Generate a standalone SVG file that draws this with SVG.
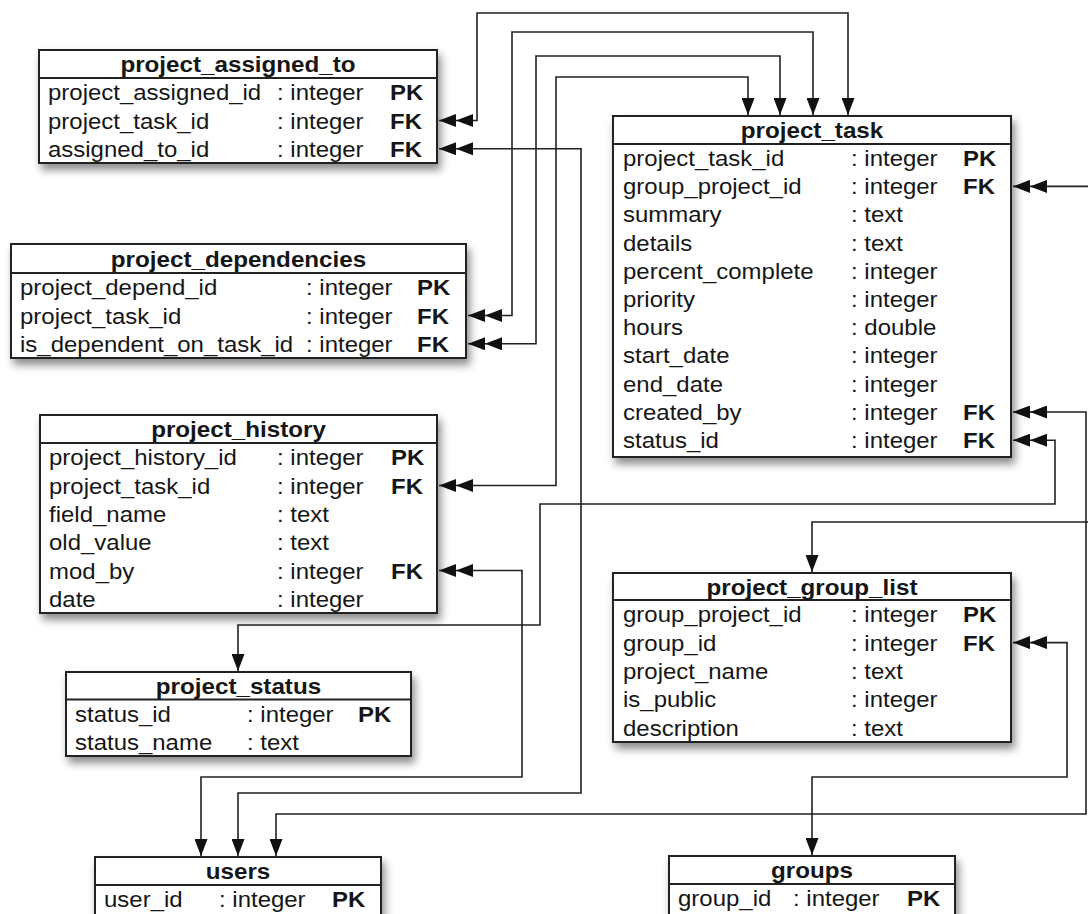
<svg xmlns="http://www.w3.org/2000/svg" width="1088" height="914" viewBox="0 0 1088 914">
<defs>
<filter id="sh" x="-10%" y="-10%" width="130%" height="140%">
<feDropShadow dx="3" dy="6" stdDeviation="4" flood-color="#000" flood-opacity="0.45"/>
</filter>
<marker id="dbl" viewBox="0 0 34 13" refX="34" refY="6.5" markerWidth="34" markerHeight="13" markerUnits="userSpaceOnUse" orient="auto-start-reverse">
<path d="M0,0 L17,6.5 L0,13 Z M17,0 L34,6.5 L17,13 Z" fill="#111"/>
</marker>
<marker id="arr" viewBox="0 0 17 13" refX="17" refY="6.5" markerWidth="17" markerHeight="13" markerUnits="userSpaceOnUse" orient="auto">
<path d="M0,0 L17,6.5 L0,13 Z" fill="#111"/>
</marker>
<style>
.box{fill:#fff;stroke:#222;stroke-width:2}
.hd{stroke:#222;stroke-width:2}
.c{fill:none;stroke:#222;stroke-width:1.6;marker-start:url(#dbl);marker-end:url(#arr)}
text{font-family:"Liberation Sans",Arial,Helvetica,sans-serif;font-size:22px;fill:#161616}
.t{font-weight:bold;text-anchor:middle}
.k{font-weight:bold}
</style>
</defs>
<rect width="1088" height="914" fill="#fff"/>

<g id="project_assigned_to">
<rect class="box" x="39" y="50" width="398" height="113" filter="url(#sh)"/>
<line class="hd" x1="39" y1="78" x2="437" y2="78"/>
<text class="t" transform="matrix(1.1 0 0 1 238 72)">project_assigned_to</text>
<text transform="matrix(1.09 0 0 1 48 100.2)">project_assigned_id</text>
<text transform="matrix(1.09 0 0 1 277 100.2)">: integer</text>
<text class="k" transform="matrix(1.09 0 0 1 390 100.2)">PK</text>
<text transform="matrix(1.09 0 0 1 48 128.5)">project_task_id</text>
<text transform="matrix(1.09 0 0 1 277 128.5)">: integer</text>
<text class="k" transform="matrix(1.09 0 0 1 390 128.5)">FK</text>
<text transform="matrix(1.09 0 0 1 48 156.8)">assigned_to_id</text>
<text transform="matrix(1.09 0 0 1 277 156.8)">: integer</text>
<text class="k" transform="matrix(1.09 0 0 1 390 156.8)">FK</text>
</g>

<g id="project_dependencies">
<rect class="box" x="11" y="244" width="455" height="114" filter="url(#sh)"/>
<line class="hd" x1="11" y1="273" x2="466" y2="273"/>
<text class="t" transform="matrix(1.1 0 0 1 238.5 266.5)">project_dependencies</text>
<text transform="matrix(1.09 0 0 1 20 295.2)">project_depend_id</text>
<text transform="matrix(1.09 0 0 1 306 295.2)">: integer</text>
<text class="k" transform="matrix(1.09 0 0 1 417 295.2)">PK</text>
<text transform="matrix(1.09 0 0 1 20 323.5)">project_task_id</text>
<text transform="matrix(1.09 0 0 1 306 323.5)">: integer</text>
<text class="k" transform="matrix(1.09 0 0 1 417 323.5)">FK</text>
<text transform="matrix(1.09 0 0 1 20 351.8)">is_dependent_on_task_id</text>
<text transform="matrix(1.09 0 0 1 306 351.8)">: integer</text>
<text class="k" transform="matrix(1.09 0 0 1 417 351.8)">FK</text>
</g>

<g id="project_history">
<rect class="box" x="40" y="415" width="397" height="198" filter="url(#sh)"/>
<line class="hd" x1="40" y1="443" x2="437" y2="443"/>
<text class="t" transform="matrix(1.1 0 0 1 238.5 437)">project_history</text>
<text transform="matrix(1.09 0 0 1 49 465.2)">project_history_id</text>
<text transform="matrix(1.09 0 0 1 277 465.2)">: integer</text>
<text class="k" transform="matrix(1.09 0 0 1 391 465.2)">PK</text>
<text transform="matrix(1.09 0 0 1 49 493.5)">project_task_id</text>
<text transform="matrix(1.09 0 0 1 277 493.5)">: integer</text>
<text class="k" transform="matrix(1.09 0 0 1 391 493.5)">FK</text>
<text transform="matrix(1.09 0 0 1 49 521.8)">field_name</text>
<text transform="matrix(1.09 0 0 1 277 521.8)">: text</text>
<text transform="matrix(1.09 0 0 1 49 550.2)">old_value</text>
<text transform="matrix(1.09 0 0 1 277 550.2)">: text</text>
<text transform="matrix(1.09 0 0 1 49 578.5)">mod_by</text>
<text transform="matrix(1.09 0 0 1 277 578.5)">: integer</text>
<text class="k" transform="matrix(1.09 0 0 1 391 578.5)">FK</text>
<text transform="matrix(1.09 0 0 1 49 606.8)">date</text>
<text transform="matrix(1.09 0 0 1 277 606.8)">: integer</text>
</g>

<g id="project_status">
<rect class="box" x="66" y="672" width="345" height="84" filter="url(#sh)"/>
<line class="hd" x1="66" y1="699.5" x2="411" y2="699.5"/>
<text class="t" transform="matrix(1.1 0 0 1 238.5 694)">project_status</text>
<text transform="matrix(1.09 0 0 1 75 721.6)">status_id</text>
<text transform="matrix(1.09 0 0 1 247 721.6)">: integer</text>
<text class="k" transform="matrix(1.09 0 0 1 358 721.6)">PK</text>
<text transform="matrix(1.09 0 0 1 75 749.8)">status_name</text>
<text transform="matrix(1.09 0 0 1 247 749.8)">: text</text>
</g>

<g id="users">
<rect class="box" x="95" y="857" width="286" height="70" filter="url(#sh)"/>
<line class="hd" x1="95" y1="885" x2="381" y2="885"/>
<text class="t" transform="matrix(1.1 0 0 1 238 879)">users</text>
<text transform="matrix(1.09 0 0 1 104 907)">user_id</text>
<text transform="matrix(1.09 0 0 1 219 907)">: integer</text>
<text class="k" transform="matrix(1.09 0 0 1 332 907)">PK</text>
</g>

<g id="project_task">
<rect class="box" x="613" y="116" width="398" height="341" filter="url(#sh)"/>
<line class="hd" x1="613" y1="144" x2="1011" y2="144"/>
<text class="t" transform="matrix(1.1 0 0 1 812 137.5)">project_task</text>
<text transform="matrix(1.09 0 0 1 623 166)">project_task_id</text>
<text transform="matrix(1.09 0 0 1 851 166)">: integer</text>
<text class="k" transform="matrix(1.09 0 0 1 963 166)">PK</text>
<text transform="matrix(1.09 0 0 1 623 194.2)">group_project_id</text>
<text transform="matrix(1.09 0 0 1 851 194.2)">: integer</text>
<text class="k" transform="matrix(1.09 0 0 1 963 194.2)">FK</text>
<text transform="matrix(1.09 0 0 1 623 222.4)">summary</text>
<text transform="matrix(1.09 0 0 1 851 222.4)">: text</text>
<text transform="matrix(1.09 0 0 1 623 250.6)">details</text>
<text transform="matrix(1.09 0 0 1 851 250.6)">: text</text>
<text transform="matrix(1.09 0 0 1 623 278.8)">percent_complete</text>
<text transform="matrix(1.09 0 0 1 851 278.8)">: integer</text>
<text transform="matrix(1.09 0 0 1 623 307)">priority</text>
<text transform="matrix(1.09 0 0 1 851 307)">: integer</text>
<text transform="matrix(1.09 0 0 1 623 335.2)">hours</text>
<text transform="matrix(1.09 0 0 1 851 335.2)">: double</text>
<text transform="matrix(1.09 0 0 1 623 363.4)">start_date</text>
<text transform="matrix(1.09 0 0 1 851 363.4)">: integer</text>
<text transform="matrix(1.09 0 0 1 623 391.6)">end_date</text>
<text transform="matrix(1.09 0 0 1 851 391.6)">: integer</text>
<text transform="matrix(1.09 0 0 1 623 419.8)">created_by</text>
<text transform="matrix(1.09 0 0 1 851 419.8)">: integer</text>
<text class="k" transform="matrix(1.09 0 0 1 963 419.8)">FK</text>
<text transform="matrix(1.09 0 0 1 623 448)">status_id</text>
<text transform="matrix(1.09 0 0 1 851 448)">: integer</text>
<text class="k" transform="matrix(1.09 0 0 1 963 448)">FK</text>
</g>

<g id="project_group_list">
<rect class="box" x="613" y="573" width="398" height="169" filter="url(#sh)"/>
<line class="hd" x1="613" y1="600" x2="1011" y2="600"/>
<text class="t" transform="matrix(1.1 0 0 1 812 594.5)">project_group_list</text>
<text transform="matrix(1.09 0 0 1 623 622.2)">group_project_id</text>
<text transform="matrix(1.09 0 0 1 851 622.2)">: integer</text>
<text class="k" transform="matrix(1.09 0 0 1 963 622.2)">PK</text>
<text transform="matrix(1.09 0 0 1 623 650.6)">group_id</text>
<text transform="matrix(1.09 0 0 1 851 650.6)">: integer</text>
<text class="k" transform="matrix(1.09 0 0 1 963 650.6)">FK</text>
<text transform="matrix(1.09 0 0 1 623 679)">project_name</text>
<text transform="matrix(1.09 0 0 1 851 679)">: text</text>
<text transform="matrix(1.09 0 0 1 623 707.4)">is_public</text>
<text transform="matrix(1.09 0 0 1 851 707.4)">: integer</text>
<text transform="matrix(1.09 0 0 1 623 735.8)">description</text>
<text transform="matrix(1.09 0 0 1 851 735.8)">: text</text>
</g>

<g id="groups">
<rect class="box" x="669" y="856" width="286" height="70" filter="url(#sh)"/>
<line class="hd" x1="669" y1="884" x2="955" y2="884"/>
<text class="t" transform="matrix(1.1 0 0 1 812 877.5)">groups</text>
<text transform="matrix(1.09 0 0 1 678 906)">group_id</text>
<text transform="matrix(1.09 0 0 1 793 906)">: integer</text>
<text class="k" transform="matrix(1.09 0 0 1 907 906)">PK</text>
</g>

<g id="connectors">
<path class="c" d="M439,120.5 H477 V13 H848 V115"/>
<path class="c" d="M468,315.5 H512 V32 H813 V115"/>
<path class="c" d="M468,343.8 H536 V56 H780 V115"/>
<path class="c" d="M439,485.5 H556 V77 H748 V115"/>
<path class="c" d="M439,148.8 H581 V793 H238 V856"/>
<path class="c" d="M439,570.5 H522 V777 H201 V856"/>
<path class="c" d="M1013,412 H1086 V814 H276 V856"/>
<path class="c" d="M1013,440.2 H1055 V504 H540 V625 H238 V671"/>
<path class="c" d="M1013,186.4 H1095 V522 H812 V572"/>
<path class="c" d="M1013,642.6 H1067 V777 H812 V855"/>
</g>
</svg>
